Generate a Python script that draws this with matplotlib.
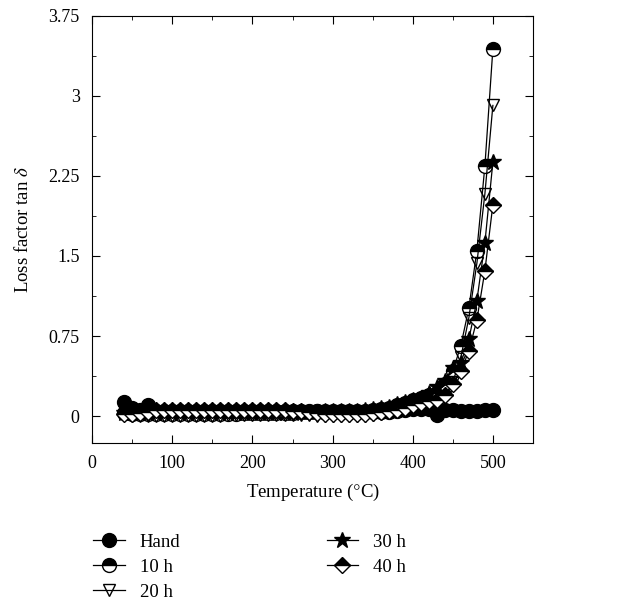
import matplotlib.pyplot as plt
import numpy as np
from matplotlib.ticker import MultipleLocator

plt.rcParams['font.family'] = ['Liberation Serif', 'DejaVu Serif']
plt.rcParams['mathtext.fontset'] = 'stix'

temp = np.arange(40, 501, 10)

hand = [0.13, 0.08, 0.06, 0.10, 0.05, 0.05, 0.05, 0.05, 0.05, 0.05,
        0.05, 0.05, 0.05, 0.05, 0.05, 0.05, 0.05, 0.05, 0.05, 0.05,
        0.05, 0.05, 0.05, 0.05, 0.05, 0.04, 0.04, 0.04, 0.04, 0.04,
        0.04, 0.04, 0.04, 0.04, 0.05, 0.06, 0.07, 0.07, 0.07, 0.01,
        0.06, 0.06, 0.05, 0.05, 0.05, 0.06, 0.06]
h10 = [0.03, 0.02, 0.02, 0.02, 0.02, 0.02, 0.02, 0.02, 0.02, 0.02,
       0.02, 0.02, 0.02, 0.02, 0.02, 0.03, 0.03, 0.03, 0.03, 0.03,
       0.03, 0.03, 0.04, 0.04, 0.05, 0.05, 0.05, 0.05, 0.05, 0.05,
       0.05, 0.06, 0.07, 0.08, 0.10, 0.12, 0.15, 0.17, 0.20, 0.22,
       0.30, 0.42, 0.66, 1.01, 1.55, 2.34, 3.44]
h20 = [0.01, 0.00, 0.00, 0.00, 0.00, 0.00, 0.00, 0.00, 0.00, 0.00,
       0.00, 0.00, 0.00, 0.01, 0.01, 0.01, 0.01, 0.01, 0.01, 0.01,
       0.01, 0.01, 0.01, 0.01, 0.00, 0.00, 0.00, 0.00, 0.00, 0.00,
       0.00, 0.01, 0.02, 0.03, 0.05, 0.07, 0.09, 0.11, 0.13, 0.10,
       0.18, 0.32, 0.55, 0.92, 1.43, 2.08, 2.91]
h30 = [0.03, 0.03, 0.03, 0.03, 0.03, 0.03, 0.03, 0.03, 0.03, 0.03,
       0.03, 0.03, 0.03, 0.03, 0.03, 0.03, 0.03, 0.03, 0.03, 0.03,
       0.03, 0.03, 0.04, 0.04, 0.04, 0.05, 0.05, 0.05, 0.05, 0.05,
       0.06, 0.07, 0.08, 0.09, 0.11, 0.13, 0.15, 0.17, 0.22, 0.27,
       0.33, 0.45, 0.50, 0.72, 1.08, 1.62, 2.38]
h40 = [0.02, 0.02, 0.03, 0.04, 0.06, 0.06, 0.06, 0.06, 0.06, 0.06,
       0.06, 0.06, 0.06, 0.06, 0.06, 0.06, 0.06, 0.06, 0.06, 0.06,
       0.06, 0.05, 0.05, 0.04, 0.03, 0.02, 0.02, 0.02, 0.02, 0.02,
       0.02, 0.03, 0.04, 0.05, 0.06, 0.08, 0.10, 0.12, 0.14, 0.15,
       0.20, 0.30, 0.42, 0.61, 0.90, 1.36, 1.98]

labels = ['Hand', '10 h', '20 h', '30 h', '40 h']
series = [hand, h10, h20, h30, h40]
markers = ['o', 'o', 'v', '*', 'D']
fills = ['full', 'top', 'none', 'full', 'top']
sizes = [10, 10, 9, 12, 8]

fig = plt.figure(figsize=(6.27, 6.05), dpi=100)
ax = fig.add_axes([0.147, 0.268, 0.703, 0.706])

for y, lab, m, fs, ms in zip(series, labels, markers, fills, sizes):
    ax.plot(temp, y, color='black', lw=0.9, marker=m, ms=ms,
            fillstyle=fs, markerfacecolor='black' if fs != 'none' else 'white',
            markerfacecoloralt='white', markeredgecolor='black',
            markeredgewidth=1.0, label=lab)

ax.set_xlim(0, 550)
ax.set_ylim(-0.25, 3.75)
ax.set_xticks([0, 100, 200, 300, 400, 500])
ax.set_yticks([0, 0.75, 1.5, 2.25, 3, 3.75])
ax.set_yticklabels(['0', '0.75', '1.5', '2.25', '3', '3.75'])
ax.xaxis.set_minor_locator(MultipleLocator(50))
ax.yaxis.set_minor_locator(MultipleLocator(0.375))
ax.tick_params(which='both', direction='in', top=True, right=True,
               labelsize=13, pad=9)
ax.tick_params(which='major', length=6)
ax.tick_params(which='minor', length=3)

ax.set_xlabel('Temperature ($\\degree$C)', fontsize=13.5, labelpad=7)
ax.set_ylabel(r'Loss factor tan $\delta$', fontsize=13.5, labelpad=12)

handles, labs = ax.get_legend_handles_labels()
fig.legend(handles, labs,
           loc='upper left', bbox_to_anchor=(0.136, 0.13), ncol=2,
           frameon=False, fontsize=13.5, handlelength=1.7, handletextpad=0.8,
           columnspacing=7.8, labelspacing=0.42, borderaxespad=0)

fig.savefig('out.png', dpi=100)
